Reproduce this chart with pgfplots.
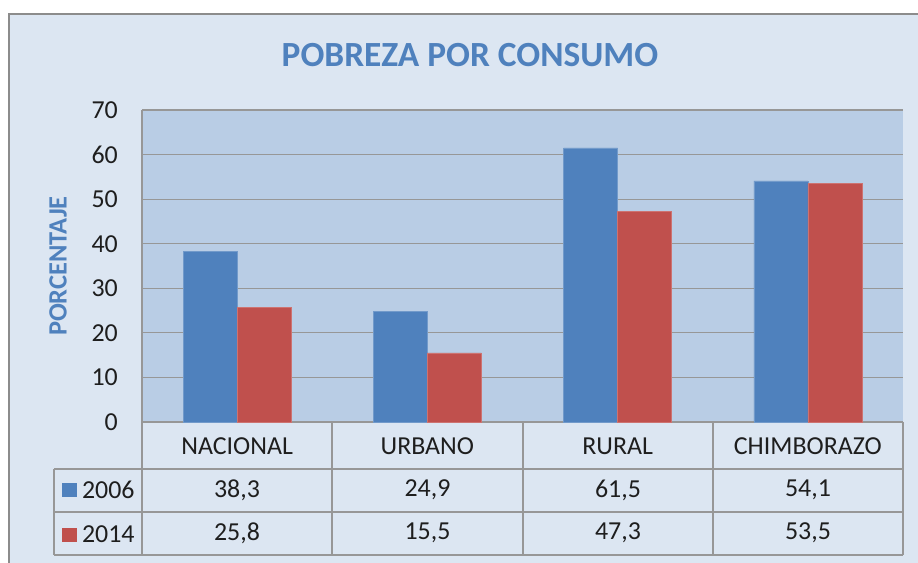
\documentclass[border=0pt]{standalone}
\usepackage{fontspec}
\setmainfont{Carlito}
\usepackage{pgfplots}
\pgfplotsset{compat=1.18}
\definecolor{cblue}{HTML}{4F81BD}
\definecolor{cred}{HTML}{C0504D}
\definecolor{plotbg}{HTML}{B9CDE5}
\definecolor{outbg}{HTML}{DCE6F2}
\definecolor{gridc}{HTML}{979797}
\definecolor{framec}{HTML}{8C8C8C}
\definecolor{txt}{HTML}{1E1E1E}
\newcommand\fs{\fontsize{26}{30}\selectfont}
\begin{document}
\begin{tikzpicture}
\begin{scope}[x=1bp,y=1bp]
\fill[white] (0,0) rectangle (918,563);
\fill[outbg] (9,0) rectangle (918,549);
\draw[framec, line width=1.5bp] (9,0) -- (9,549) -- (918,549);
\end{scope}
\begin{axis}[
 at={(142bp,141bp)}, anchor=south west,
 scale only axis, width=761bp, height=312bp,
 ymin=0, ymax=70, ytick={0,10,...,70},
 xmin=-0.5, xmax=3.5, xtick={0,1,2,3},
 xticklabels={NACIONAL,URBANO,RURAL,CHIMBORAZO},
 ybar=0pt, bar width=0.284,
 axis background/.style={fill=plotbg},
 ymajorgrids, grid style={gridc, line width=1.2bp},
 axis x line*=bottom, axis y line*=left,
 axis line style={gridc, line width=1.2bp, -},
 major tick length=0pt,
 /pgf/number format/assume math mode=true,
 tick label style={font=\fs, text=txt},
 yticklabel style={anchor=east, inner sep=0pt, xshift=-24bp},
 xticklabel style={anchor=center, inner sep=0pt, yshift=-24bp},
 ylabel={PORCENTAJE},
 ylabel style={font=\fontsize{26.5}{30}\selectfont\bfseries, text=cblue, at={(axis description cs:-0.1104,0.5)}, anchor=center},
 title={POBREZA POR CONSUMO},
 title style={font=\fontsize{35.5}{40}\selectfont\bfseries, text=cblue, at={(axis description cs:0.431,1.157)}, anchor=center},
 clip=false,
 legend cell align=left,
 legend image code/.code={\path[#1,draw=none] (0bp,-7bp) rectangle (15bp,7bp);},
 legend style={draw=none, fill=none, inner sep=0pt, outer sep=0pt,
   at={(axis description cs:-0.1051,-0.189)}, anchor=north west,
   font=\fs, text=txt, row sep=25.5bp,
   nodes={inner sep=0pt, outer sep=0pt},
   /tikz/every odd column/.append style={column sep=5bp}},
]
\addplot[fill=cblue, draw=cblue!80!white, line width=0.6bp] coordinates {(0,38.3) (1,24.9) (2,61.5) (3,54.1)};
\addplot[fill=cred, draw=cred!80!white, line width=0.6bp] coordinates {(0,25.8) (1,15.5) (2,47.3) (3,53.5)};
\legend{2006,2014}
\end{axis}
\begin{scope}[x=1bp,y=1bp]
\draw[gridc, line width=1.2bp] (54,94) -- (903,94) (54,51) -- (903,51) (54,8) -- (903,8)
  (54,94) -- (54,8) (142,141) -- (142,8) (332,141) -- (332,8) (523,141) -- (523,8)
  (713,141) -- (713,8) (903,141) -- (903,8);
\begin{scope}[every node/.style={font=\fs, text=txt, inner sep=0pt, anchor=center}]
\node at (237,73) {38,3};
\node at (427.5,73) {24,9};
\node at (618,73) {61,5};
\node at (808,73) {54,1};
\node at (237,30) {25,8};
\node at (427.5,30) {15,5};
\node at (618,30) {47,3};
\node at (808,30) {53,5};
\end{scope}
\end{scope}
\pgfresetboundingbox
\path (0,0) rectangle (918bp,563bp);
\end{tikzpicture}
\end{document}
